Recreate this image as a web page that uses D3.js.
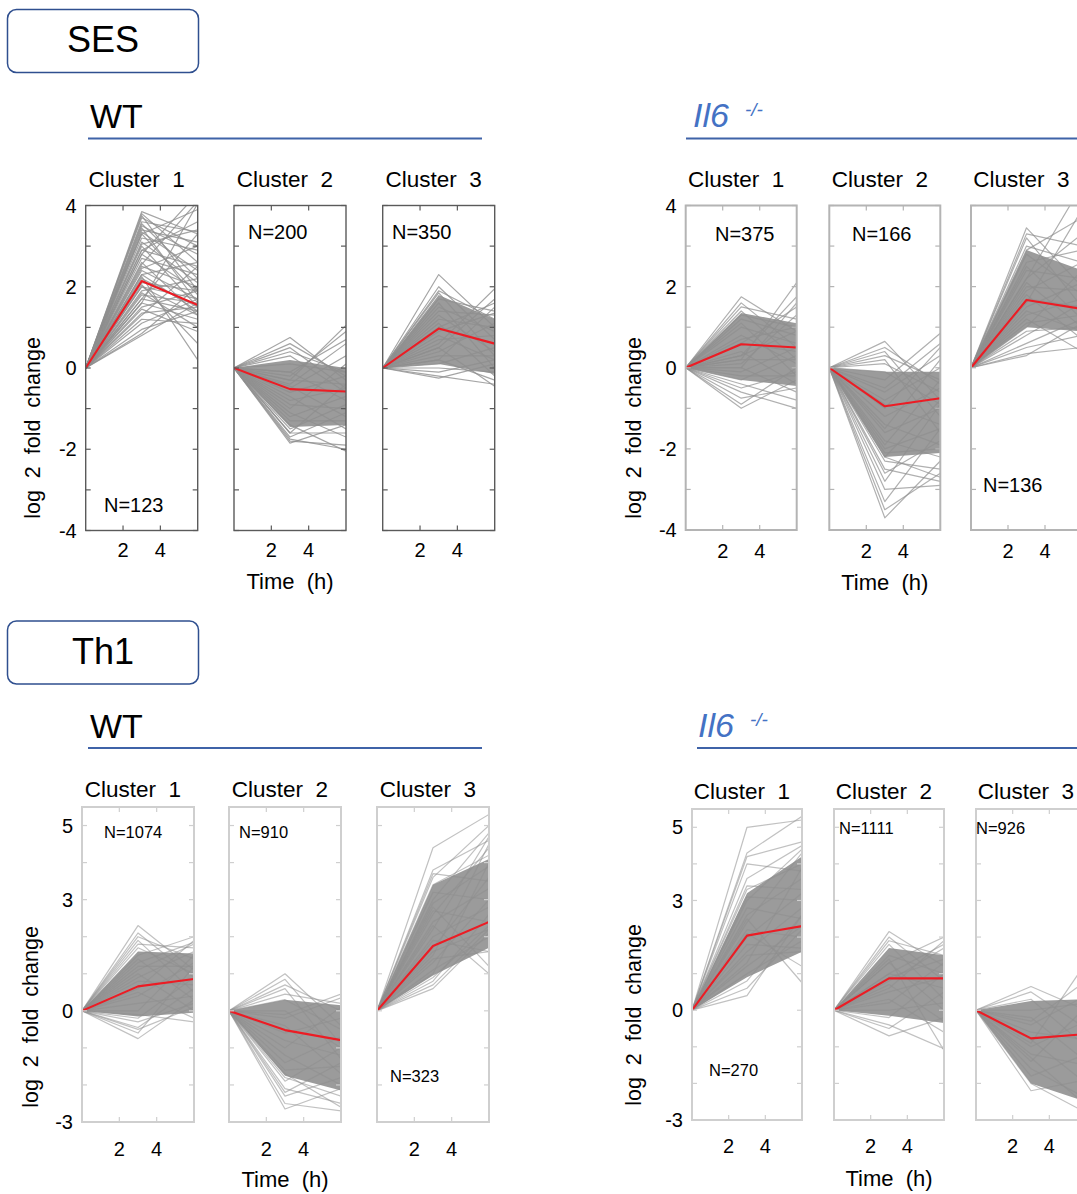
<!doctype html>
<html>
<head>
  <style>
    body { margin:0; background:#fff; }
    svg { display:block; font-family:"Liberation Sans", Arial, sans-serif; }
    .gene { fill:none; stroke:#8e8e8e; stroke-width:1.2; stroke-linejoin:round; }
    .core { stroke:none; fill:#9b9b9b; }
    .mean { fill:none; stroke:#ec1c24; stroke-width:2.1; stroke-linejoin:round; }
    .frame { fill:none; }
    .hdr { fill:none; stroke:#3f63a8; stroke-width:2; }
  </style>
  <script src="https://d3js.org/d3.v7.min.js"></script>
</head>
<body>
<script>
// sampling times (h); every profile starts at 0 at time 0
var times = [0, 3, 6];
var timeTicks = [2, 4];
var clusterNames = ["Cluster  1", "Cluster  2", "Cluster  3"];
var sesTickLabels = [-4, -2, 0, 2, 4];
var th1TickLabels = [-3, 0, 3, 5];

// cluster sizes
var sesWtN = [123, 200, 350];
var sesKoN = [375, 166, 136];
var th1WtN = [1074, 910, 323];
var th1KoN = [270, 1111, 926];

// cluster means [3h, 6h]
var sesWtMean = [[2.14, 1.55], [-0.52, -0.58], [0.97, 0.6]];
var sesKoMean = [[0.58, 0.5], [-0.95, -0.75], [1.67, 1.45]];
var th1WtMean = [[0.66, 0.86], [-0.52, -0.79], [1.75, 2.4]];
var th1KoMean = [[2.04, 2.3], [0.87, 0.87], [-0.77, -0.65]];

// dense core of each cluster [3h low, 3h high, 6h low, 6h high]
var sesWtCore = [null, [-1.45, 0.2, -1.4, 0.0], [0.1, 1.8, -0.15, 1.2]];
var sesKoCore = [[-0.3, 1.35, -0.45, 1.1], [-2.2, -0.1, -2.1, -0.1], [1.0, 2.9, 0.9, 2.4]];
var th1WtCore = [[-0.15, 1.6, -0.05, 1.55], [-1.75, 0.3, -2.15, 0.15], [0.95, 3.4, 1.7, 4.1]];
var th1KoCore = [[0.9, 3.2, 1.6, 4.2], [-0.15, 1.7, -0.35, 1.5], [-2.0, 0.25, -2.5, 0.3]];

// individual gene profiles [3h, 6h]
var sesWt1 = [[3.85,3.3],[3.8,2.6],[3.75,1.9],[3.7,3.0],[3.6,3.35],[3.55,2.2],[3.5,2.8],[3.45,1.6],[3.4,3.1],[3.35,2.4],
  [3.3,1.8],[3.2,2.9],[3.1,2.1],[3.05,3.4],[3.0,1.5],[2.9,2.5],[2.8,4.3],[2.8,1.9],[2.7,2.3],[2.6,1.3],[2.55,4.1],
  [2.5,2.0],[2.45,3.0],[2.4,1.7],[2.3,2.6],[2.25,0.2],[2.2,1.5],[2.1,1.9],[2.05,0.6],[2.0,1.3],[1.9,2.2],[1.85,1.0],
  [1.8,1.6],[1.7,3.3],[1.6,1.2],[1.6,4.05],[1.5,1.9],[1.45,0.9],[1.35,1.5],[1.3,2.5],[1.2,1.1],[1.1,1.7],[0.95,1.4],
  [0.85,2.0],[0.8,1.6],[2.9,3.6],[3.3,3.9],[2.3,1.4],[2.0,1.7],[1.7,1.4]];
var sesWt2 = [[0.75,-0.3],[0.6,-0.2],[0.5,-0.5],[0.4,-0.1],[0.3,-0.6],[0.1,-0.1],[-0.1,-0.8],[-0.3,1.05],[-0.2,0.9],
  [-0.1,0.7],[-0.4,0.6],[-0.3,-0.4],[-0.45,-1.2],[-0.6,-0.2],[-0.7,-1.5],[-0.8,-0.5],[-0.9,-1.0],[-1.0,0.1],
  [-1.1,-1.7],[-1.2,-0.7],[-1.3,-1.3],[-1.4,-2.05],[-1.5,-0.9],[-1.6,-1.6],[-1.7,-1.1],[-1.8,-1.9],[-1.85,-1.4],
  [-1.75,-2.0],[-1.6,-0.4],[-0.5,0.3]];
var sesWt3 = [[2.3,1.0],[2.0,0.7],[1.9,1.2],[1.85,0.3],[1.7,1.4],[1.6,0.0],[1.5,0.9],[1.4,1.3],[1.3,0.4],[1.2,1.0],
  [1.1,-0.2],[1.0,0.6],[0.9,1.35],[0.8,0.2],[0.7,0.8],[0.6,1.95],[0.5,1.7],[0.5,-0.45],[0.4,1.1],[0.3,0.3],
  [0.2,-0.3],[0.1,0.5],[0.0,-0.1],[-0.1,0.2],[-0.2,-0.4],[-0.25,0.1],[0.2,1.5],[1.0,1.6]];
var sesKo1 = [[1.75,0.9],[1.6,0.5],[1.5,1.2],[1.4,0.2],[1.3,1.0],[1.2,0.8],[1.1,-0.2],[1.0,0.6],[0.6,1.5],[0.8,0.1],
  [0.7,1.0],[0.6,0.4],[0.2,2.1],[0.3,1.75],[0.4,-0.4],[0.3,0.9],[0.2,0.2],[0.1,1.3],[0.0,-0.6],[-0.1,0.5],
  [-0.2,-0.2],[-0.3,0.3],[-0.4,-0.8],[-0.5,-0.1],[-0.6,-1.0],[-0.75,-0.5],[-0.9,0.0],[-1.0,-0.3],[0.0,1.6]];
var sesKo2 = [[0.65,-0.8],[0.5,-0.4],[0.4,-1.2],[0.3,-0.3],[0.2,-1.6],[0.1,-0.6],[-0.1,-0.9],[-0.3,0.85],[-0.5,0.6],
  [-0.6,0.3],[-0.8,0.0],[-0.9,-1.4],[-1.0,0.5],[-1.2,-0.5],[-1.4,-1.9],[-1.5,0.2],[-1.6,-1.0],[-1.8,-2.2],
  [-1.9,-0.3],[-2.0,-1.5],[-2.1,-2.0],[-2.2,-0.8],[-2.3,-2.5],[-2.5,-2.8],[-2.6,-1.8],[-2.8,-0.9],[-3.0,-2.9],
  [-3.3,-1.5],[-3.5,-2.6],[-3.7,-2.3],[-2.2,-2.7]];
var sesKo3 = [[3.45,2.0],[3.3,3.0],[3.2,1.5],[3.0,2.6],[2.9,3.7],[2.8,1.8],[2.6,2.9],[2.5,1.2],[2.4,2.2],[2.2,3.3],
  [2.2,4.5],[2.1,1.0],[2.0,1.9],[1.9,2.6],[1.8,0.7],[1.7,1.5],[1.6,3.9],[1.5,2.1],[1.4,0.9],[1.3,1.7],[1.2,0.4],
  [1.1,1.3],[1.0,2.4],[0.9,1.0],[0.8,1.6],[0.6,1.2],[0.5,0.8],[0.35,0.5],[0.3,1.1]];
var th1Wt1 = [[2.3,1.1],[2.1,0.9],[2.0,1.4],[1.9,0.5],[1.8,1.7],[1.7,1.0],[1.5,2.0],[1.4,0.3],[1.3,1.85],[1.2,1.2],
  [1.0,0.0],[0.9,1.6],[0.8,0.7],[0.6,1.9],[0.5,-0.2],[0.4,1.3],[0.2,0.4],[0.0,1.5],[-0.1,-0.3],[-0.2,0.9],
  [-0.3,0.2],[-0.45,0.6],[-0.6,1.2],[-0.75,0.3],[-0.5,0.1],[1.1,1.8]];
var th1Wt2 = [[1.0,-0.4],[0.85,-0.9],[0.7,0.0],[0.6,-1.3],[0.45,0.2],[0.3,-0.5],[-0.1,0.45],[0.0,-1.0],[-0.2,0.35],
  [-0.4,-1.7],[-0.6,-0.2],[-0.8,-1.2],[-1.0,0.1],[-1.2,-2.0],[-1.4,-0.7],[-1.6,-1.5],[-1.8,-2.3],[-1.9,-1.0],
  [-2.1,-2.5],[-2.3,-1.8],[-2.5,-2.7],[-2.65,-2.1],[-2.2,-1.4],[-1.7,-2.6]];
var th1Wt3 = [[4.4,5.3],[3.8,4.6],[3.7,3.5],[3.6,5.0],[3.4,4.2],[3.2,3.0],[3.0,4.8],[2.9,3.9],[2.7,2.4],[2.6,4.4],
  [2.4,3.3],[2.3,1.0],[2.2,4.7],[2.0,2.8],[1.9,1.6],[1.7,3.6],[1.6,2.2],[1.4,1.6],[1.3,3.0],[1.1,2.0],[1.0,4.0],
  [0.9,2.3],[0.8,2.6],[0.7,2.2],[0.6,2.1],[1.5,4.5],[2.8,1.2]];
var th1Ko1 = [[5.0,5.2],[4.3,5.3],[4.2,4.6],[4.0,3.8],[3.6,4.5],[3.3,4.0],[3.1,3.0],[3.0,4.4],[2.8,2.5],[2.6,3.6],
  [2.5,0.75],[2.4,4.3],[2.2,2.0],[2.0,3.2],[1.8,1.7],[1.6,2.8],[1.5,1.6],[1.3,3.9],[1.2,2.3],[1.0,1.9],[0.8,2.6],
  [0.6,2.2],[0.4,2.6],[2.1,1.2],[3.4,3.3]];
var th1Ko2 = [[2.15,1.2],[2.0,0.8],[1.9,1.5],[1.8,0.3],[1.3,2.0],[1.5,1.0],[1.3,0.0],[1.0,1.8],[1.0,0.6],[0.9,1.4],
  [0.7,-0.3],[0.6,1.9],[0.5,0.9],[0.3,-0.6],[0.2,1.3],[0.0,0.2],[-0.2,1.0],[-0.4,-1.05],[-0.5,0.5],[-0.7,-0.2],
  [1.4,-1.1],[0.8,1.7]];
var th1Ko3 = [[0.65,0.0],[0.5,-0.5],[-0.3,0.8],[0.3,-1.0],[-0.9,1.3],[0.0,0.2],[-0.2,-1.4],[-0.4,0.4],[-0.6,-0.8],
  [-0.8,-2.0],[-1.0,-0.3],[-1.2,-1.5],[-1.4,0.1],[-1.6,-2.4],[-1.8,-1.2],[-2.0,-2.8],[-2.2,-1.9],[-1.3,-2.6]];

// layout of the four blocks (pixels)
var blocks = [
  { title:"WT", ko:false, tx:90, ty:128, ly:138.5, lx0:88, lx1:482,
    lefts:[85.7, 234, 382.7], w:112, top:205.5, bottom:530.5, dom:[-4,4], labels:sesTickLabels,
    frame:"#5a5a5a", fw:1.4, titleY:187, tickY:557, timeY:589, ylabX:40, ylabY:428, op:0.8,
    n:sesWtN, mean:sesWtMean, core:sesWtCore, genes:[sesWt1, sesWt2, sesWt3], nSize:20,
    nPos:[[104,512],[248,239],[392,239]] },
  { title:"Il6", ko:true, tx:693, ty:127, ly:138.5, lx0:686, lx1:1077,
    lefts:[685.7, 829.3, 971], w:111, top:205.5, bottom:530, dom:[-4,4], labels:sesTickLabels,
    frame:"#b4b4b4", fw:2, titleY:187, tickY:558, timeY:590, ylabX:641, ylabY:428, op:0.7,
    n:sesKoN, mean:sesKoMean, core:sesKoCore, genes:[sesKo1, sesKo2, sesKo3], nSize:20,
    nPos:[[715,241],[852,241],[983,492]] },
  { title:"WT", ko:false, tx:90, ty:738, ly:748, lx0:88, lx1:482,
    lefts:[82, 229, 377], w:112, top:807, bottom:1122, dom:[-3,5.5], labels:th1TickLabels,
    frame:"#cfcfcf", fw:2, titleY:797, tickY:1156, timeY:1187, ylabX:38, ylabY:1017, op:0.55,
    n:th1WtN, mean:th1WtMean, core:th1WtCore, genes:[th1Wt1, th1Wt2, th1Wt3], nSize:16.5,
    nPos:[[104,838],[239,838],[390,1082]] },
  { title:"Il6", ko:true, tx:698, ty:737, ly:748, lx0:697, lx1:1077,
    lefts:[692, 834, 976], w:110, top:809, bottom:1120, dom:[-3,5.5], labels:th1TickLabels,
    frame:"#cfcfcf", fw:2, titleY:799, tickY:1153, timeY:1186, ylabX:641, ylabY:1015, op:0.55,
    n:th1KoN, mean:th1KoMean, core:th1KoCore, genes:[th1Ko1, th1Ko2, th1Ko3], nSize:16.5,
    nPos:[[709,1076],[839,834],[976,834]] }
];

var svg = d3.select("body").append("svg")
  .attr("width", 1077).attr("height", 1194);
var defs = svg.append("defs");

// section boxes
[["SES", 9.5, 52], ["Th1", 621, 664]].forEach(function(s) {
  svg.append("rect").attr("x", 7.5).attr("y", s[1]).attr("width", 191).attr("height", 63)
    .attr("rx", 9).attr("fill", "none").attr("stroke", "#2f4f8f").attr("stroke-width", 1.5);
  svg.append("text").attr("x", 103).attr("y", s[2]).attr("text-anchor", "middle")
    .style("font-size", "36px").text(s[0]);
});

function profile(d) { return [[times[0], 0], [times[1], d[0]], [times[2], d[1]]]; }

blocks.forEach(function(b, bi) {
  // block header
  var h = svg.append("text").attr("x", b.tx).attr("y", b.ty).style("font-size", "34px");
  if (b.ko) {
    h.style("font-style", "italic").attr("fill", "#4472c4").text(b.title);
    svg.append("text").attr("x", b.tx + 52).attr("y", b.ty - 11)
      .style("font-size", "19px").style("font-style", "italic").attr("fill", "#4472c4").text("-/-");
  } else {
    h.text(b.title);
  }
  svg.append("line").attr("class", "hdr").attr("x1", b.lx0).attr("x2", b.lx1)
    .attr("y1", b.ly).attr("y2", b.ly);

  var y = d3.scaleLinear().domain(b.dom).range([b.bottom, b.top]);
  var yTicks = d3.range(Math.ceil(b.dom[0]), Math.floor(b.dom[1]) + 1);

  b.lefts.forEach(function(left, ci) {
    var x = d3.scaleLinear().domain([times[0], times[2]]).range([left, left + b.w]);
    var g = svg.append("g");
    var cid = "clip" + bi + "_" + ci;
    defs.append("clipPath").attr("id", cid).append("rect")
      .attr("x", left).attr("y", b.top).attr("width", b.w).attr("height", b.bottom - b.top);
    var plot = g.append("g").attr("clip-path", "url(#" + cid + ")");
    var line = d3.line().x(function(p) { return x(p[0]); }).y(function(p) { return y(p[1]); });

    var c = b.core[ci];
    if (c) {
      var poly = [[times[0], 0], [times[1], c[1]], [times[2], c[3]], [times[2], c[2]], [times[1], c[0]]];
      plot.append("path").attr("class", "core").attr("d", line(poly) + "Z");
    }
    plot.selectAll("path.gene").data(b.genes[ci]).enter().append("path")
      .attr("class", "gene").attr("stroke-opacity", b.op)
      .attr("d", function(d) { return line(profile(d)); });
    plot.append("path").attr("class", "mean").attr("d", line(profile(b.mean[ci])));

    // frame and inward ticks
    g.append("rect").attr("class", "frame").attr("x", left).attr("y", b.top)
      .attr("width", b.w).attr("height", b.bottom - b.top)
      .attr("stroke", b.frame).attr("stroke-width", b.fw);
    var tk = g.append("g").attr("stroke", b.frame).attr("stroke-width", 1.2);
    yTicks.forEach(function(v) {
      tk.append("line").attr("x1", left).attr("x2", left + 5).attr("y1", y(v)).attr("y2", y(v));
      tk.append("line").attr("x1", left + b.w - 5).attr("x2", left + b.w).attr("y1", y(v)).attr("y2", y(v));
    });
    timeTicks.forEach(function(t) {
      tk.append("line").attr("x1", x(t)).attr("x2", x(t)).attr("y1", b.bottom).attr("y2", b.bottom - 5);
      tk.append("line").attr("x1", x(t)).attr("x2", x(t)).attr("y1", b.top).attr("y2", b.top + 5);
      g.append("text").attr("x", x(t)).attr("y", b.tickY).attr("text-anchor", "middle")
        .style("font-size", "20px").text(t);
    });

    g.append("text").attr("x", left + b.w / 2 - 5).attr("y", b.titleY).attr("text-anchor", "middle")
      .style("font-size", "22.5px").style("white-space", "pre").text(clusterNames[ci]);
    g.append("text").attr("x", b.nPos[ci][0]).attr("y", b.nPos[ci][1])
      .style("font-size", b.nSize + "px").text("N=" + b.n[ci]);

    if (ci === 0) {
      b.labels.forEach(function(v) {
        g.append("text").attr("x", left - 9).attr("y", y(v)).attr("dy", "0.36em")
          .attr("text-anchor", "end").style("font-size", "20px").text(v);
      });
    }
  });

  svg.append("text").attr("transform", "translate(" + b.ylabX + "," + b.ylabY + ") rotate(-90)")
    .attr("text-anchor", "middle").style("font-size", "21.5px").style("white-space", "pre")
    .text("log  2  fold  change");
  svg.append("text").attr("x", b.lefts[1] + b.w / 2).attr("y", b.timeY).attr("text-anchor", "middle")
    .style("font-size", "22px").style("white-space", "pre").text("Time  (h)");
});
</script>
</body>
</html>
